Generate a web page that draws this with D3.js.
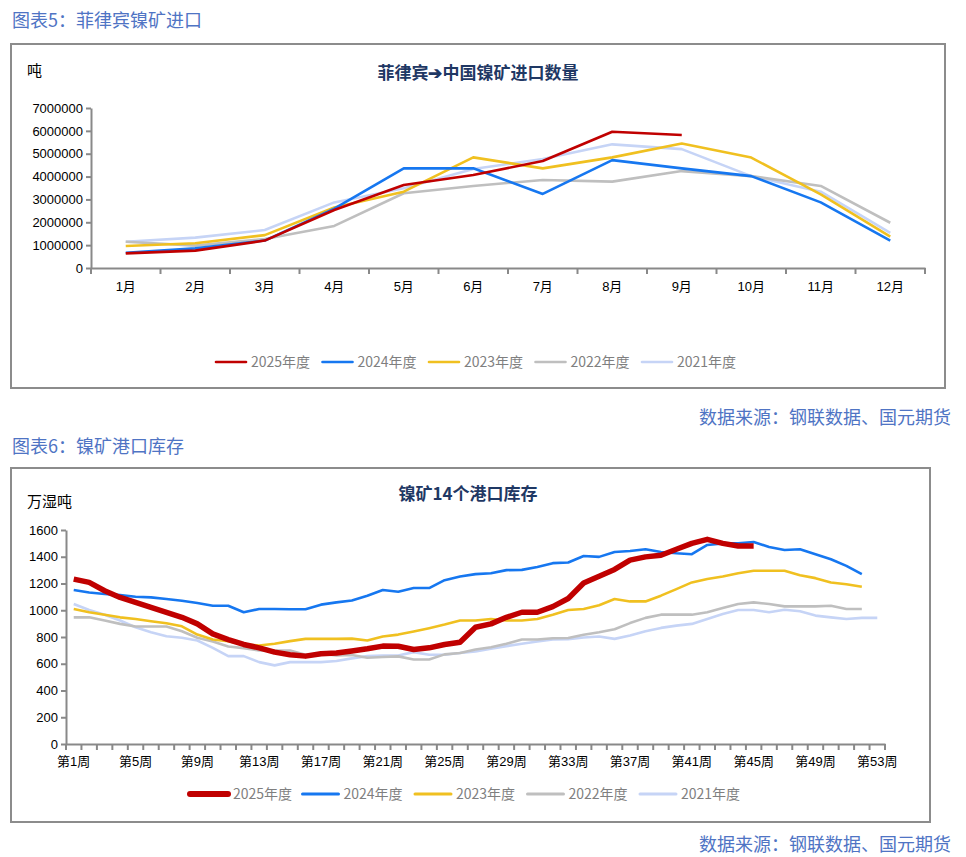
<!DOCTYPE html>
<html>
<head>
<meta charset="utf-8">
<script src="https://cdn.jsdelivr.net/npm/d3@7"></script>
<style>
  body { margin: 0; background: #fff; }
  svg { display: block; font-family: "Liberation Sans", Arial, sans-serif; }
  .cjk { font-family: "Noto Sans CJK SC", sans-serif; }
</style>
</head>
<body>
<div id="chart"></div>
<script>
// ---- data: chart 5, monthly imports (tonnes) ----
const months = ['1月', '2月', '3月', '4月', '5月', '6月', '7月', '8月', '9月', '10月', '11月', '12月'];
const imp2025 = [640000, 760000, 1200000, 2540000, 3630000, 4070000, 4680000, 5960000, 5820000];
const imp2024 = [670000, 860000, 1200000, 2600000, 4360000, 4360000, 3240000, 4720000, 4360000, 4020000, 2870000, 1200000];
const imp2023 = [960000, 1080000, 1440000, 2650000, 3340000, 4840000, 4360000, 4840000, 5450000, 4830000, 3220000, 1370000];
const imp2022 = [1150000, 980000, 1270000, 1840000, 3270000, 3590000, 3850000, 3780000, 4240000, 4020000, 3590000, 1980000];
const imp2021 = [1150000, 1330000, 1660000, 2870000, 3490000, 4330000, 4770000, 5410000, 5200000, 4020000, 3340000, 1540000];
const impTicks = [0, 1000000, 2000000, 3000000, 4000000, 5000000, 6000000, 7000000];

// ---- data: chart 6, port inventory (10k wet tonnes) ----
const weeks = d3.range(1, 54).map(w => '第' + w + '周');
const weekTicks = ['第1周', '第5周', '第9周', '第13周', '第17周', '第21周', '第25周', '第29周', '第33周', '第37周', '第41周', '第45周', '第49周', '第53周'];
const inv2025 = [1233, 1208, 1146, 1096, 1059, 1022, 985, 947, 898, 823, 781, 744, 719, 687, 667, 657, 675, 680, 696, 712, 732, 731, 707, 719, 744, 761, 873, 898, 947, 985, 985, 1027, 1088, 1204, 1255, 1305, 1375, 1399, 1411, 1456, 1500, 1530, 1500, 1481, 1481];
const inv2024 = [1151, 1133, 1121, 1113, 1101, 1096, 1084, 1071, 1054, 1034, 1034, 985, 1009, 1009, 1007, 1007, 1042, 1059, 1073, 1109, 1151, 1138, 1166, 1166, 1225, 1252, 1270, 1277, 1300, 1302, 1324, 1352, 1357, 1406, 1399, 1436, 1443, 1456, 1436, 1426, 1419, 1488, 1500, 1500, 1510, 1473, 1451, 1456, 1419, 1381, 1332, 1270];
const inv2023 = [1009, 985, 967, 947, 935, 918, 903, 880, 818, 781, 769, 744, 737, 749, 769, 786, 786, 786, 788, 774, 804, 818, 841, 866, 893, 923, 923, 935, 923, 923, 935, 967, 1002, 1009, 1038, 1084, 1066, 1066, 1109, 1158, 1208, 1233, 1252, 1277, 1295, 1295, 1295, 1262, 1240, 1208, 1195, 1176];
const inv2022 = [947, 947, 923, 898, 878, 878, 878, 843, 794, 766, 729, 717, 699, 699, 699, 667, 675, 662, 665, 645, 650, 655, 632, 632, 670, 680, 707, 724, 749, 781, 781, 791, 792, 817, 836, 858, 904, 943, 967, 967, 967, 985, 1017, 1047, 1059, 1047, 1029, 1029, 1029, 1034, 1009, 1009];
const inv2021 = [1047, 1002, 967, 923, 873, 836, 806, 794, 774, 719, 657, 657, 612, 588, 612, 612, 612, 620, 640, 657, 662, 662, 687, 667, 667, 680, 692, 712, 732, 749, 766, 781, 784, 796, 804, 786, 811, 843, 868, 885, 898, 935, 972, 1002, 1002, 985, 1004, 992, 960, 947, 935, 943, 943];
const invTicks = [0, 200, 400, 600, 800, 1000, 1200, 1400, 1600];

const yearNames = ['2025年度', '2024年度', '2023年度', '2022年度', '2021年度'];
const colors = ['#c00000', '#1677f0', '#f0c020', '#bfbfbf', '#c6d4f6'];
const axisColor = '#898989';

const svg = d3.select('#chart').append('svg')
    .attr('width', 966).attr('height', 857);

// headers and sources
function header(text, y) {
    svg.append('text').attr('class', 'cjk')
        .attr('x', 12).attr('y', y)
        .attr('fill', '#4f74c4').attr('font-size', 18)
        .text(text);
}
function source(y) {
    svg.append('text').attr('class', 'cjk')
        .attr('x', 951).attr('y', y)
        .attr('text-anchor', 'end')
        .attr('fill', '#4f74c4').attr('font-size', 18)
        .text('数据来源：钢联数据、国元期货');
}
header('图表5：菲律宾镍矿进口', 27);
source(424);
header('图表6：镍矿港口库存', 453);
source(851);

function frame(x0, y0, x1, y1) {
    svg.append('rect')
        .attr('x', x0).attr('y', y0)
        .attr('width', x1 - x0).attr('height', y1 - y0)
        .attr('fill', '#fff').attr('stroke', '#8c8c8c').attr('stroke-width', 2);
}

function legend(items, x0, step, y, widths) {
    items.forEach((d, i) => {
        const x = x0 + i * step;
        svg.append('line')
            .attr('x1', x).attr('x2', x + (d.lw || 30))
            .attr('y1', y).attr('y2', y)
            .attr('stroke', d.color).attr('stroke-width', widths[i])
            .attr('stroke-linecap', 'round');
        svg.append('text').attr('class', 'cjk')
            .attr('x', x + (d.lw || 30) + 5).attr('y', y + 5)
            .attr('fill', '#7f7f7f').attr('font-size', 14)
            .text(d.name);
    });
}

// ================= chart 5 =================
frame(11, 44, 945, 388);
svg.append('text').attr('class', 'cjk')
    .attr('x', 478).attr('y', 79).attr('text-anchor', 'middle')
    .attr('fill', '#1f3864').attr('font-size', 17).attr('font-weight', 'bold')
    .text('菲律宾➔中国镍矿进口数量');
svg.append('text').attr('class', 'cjk')
    .attr('x', 27).attr('y', 76).attr('font-size', 15).attr('fill', '#000')
    .text('吨');

const x1 = d3.scaleBand().domain(months).range([91, 925]);
const y1 = d3.scaleLinear().domain([0, 7000000]).range([268, 108]);

const gy1 = svg.append('g').attr('transform', 'translate(91,0)')
    .call(d3.axisLeft(y1).tickValues(impTicks).tickFormat(d3.format('d')).tickSize(5).tickSizeOuter(0));
const gx1 = svg.append('g').attr('transform', 'translate(0,268)')
    .call(d3.axisBottom(x1).tickSize(0).tickPadding(14));
// category boundary ticks
svg.append('g').selectAll('line')
    .data(d3.range(months.length + 1))
    .join('line')
    .attr('x1', i => 91 + i * x1.step()).attr('x2', i => 91 + i * x1.step())
    .attr('y1', 268).attr('y2', 274)
    .attr('stroke', axisColor).attr('stroke-width', 2);

const impSeries = [imp2025, imp2024, imp2023, imp2022, imp2021];
const line1 = d3.line()
    .x((d, i) => x1(months[i]) + x1.bandwidth() / 2)
    .y(d => y1(d));
impSeries.slice().reverse().forEach((s, k) => {
    const i = impSeries.length - 1 - k;
    svg.append('path').datum(s)
        .attr('fill', 'none').attr('stroke', colors[i])
        .attr('stroke-width', 2.6).attr('stroke-linejoin', 'round')
        .attr('d', line1);
});
legend(yearNames.map((n, i) => ({ name: n, color: colors[i] })), 216, 106.5, 362, [2.6, 2.6, 2.6, 2.6, 2.6]);

// ================= chart 6 =================
frame(11, 468, 930, 822);
svg.append('text').attr('class', 'cjk')
    .attr('x', 468).attr('y', 500).attr('text-anchor', 'middle')
    .attr('fill', '#1f3864').attr('font-size', 17).attr('font-weight', 'bold')
    .text('镍矿14个港口库存');
svg.append('text').attr('class', 'cjk')
    .attr('x', 27).attr('y', 507).attr('font-size', 15).attr('fill', '#000')
    .text('万湿吨');

const x2 = d3.scaleBand().domain(weeks).range([66, 885]);
const y2 = d3.scaleLinear().domain([0, 1600]).range([744, 530]);

const gy2 = svg.append('g').attr('transform', 'translate(66,0)')
    .call(d3.axisLeft(y2).tickValues(invTicks).tickFormat(d3.format('d')).tickSize(5).tickSizeOuter(0));
const gx2 = svg.append('g').attr('transform', 'translate(0,744)')
    .call(d3.axisBottom(x2).tickValues(weekTicks).tickSize(0).tickPadding(13));
svg.append('g').selectAll('line')
    .data(d3.range(weeks.length + 1))
    .join('line')
    .attr('x1', i => 66 + i * x2.step()).attr('x2', i => 66 + i * x2.step())
    .attr('y1', 744).attr('y2', 750)
    .attr('stroke', axisColor).attr('stroke-width', 2);

const invSeries = [inv2025, inv2024, inv2023, inv2022, inv2021];
const invWidths = [5.5, 2.6, 2.6, 2.6, 2.6];
const line2 = d3.line()
    .x((d, i) => x2(weeks[i]) + x2.bandwidth() / 2)
    .y(d => y2(d));
invSeries.slice().reverse().forEach((s, k) => {
    const i = invSeries.length - 1 - k;
    svg.append('path').datum(s)
        .attr('fill', 'none').attr('stroke', colors[i])
        .attr('stroke-width', invWidths[i]).attr('stroke-linejoin', 'round')
        .attr('d', line2);
});
legend(yearNames.map((n, i) => ({ name: n, color: colors[i], lw: i === 0 ? 38 : 36 })), 190, 112.5, 794, [6, 3, 3, 3, 3]);

// axis styling
[gy1, gx1, gy2, gx2].forEach(g => {
    g.select('.domain').attr('stroke', axisColor).attr('stroke-width', 2);
    g.selectAll('.tick line').attr('stroke', axisColor).attr('stroke-width', 2);
    g.selectAll('.tick text').attr('fill', '#000').attr('font-size', 13)
        .style('font-family', '"Liberation Sans", "Noto Sans CJK SC", sans-serif');
});
</script>
</body>
</html>
